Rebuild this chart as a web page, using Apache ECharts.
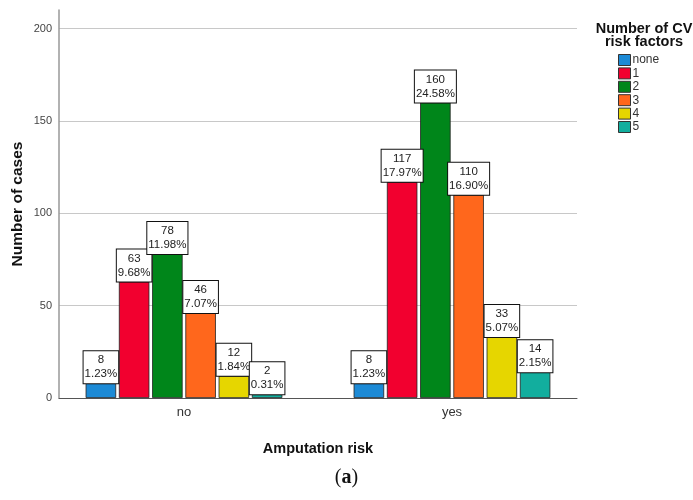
<!DOCTYPE html>
<html><head><meta charset="utf-8">
<script src="https://cdn.jsdelivr.net/npm/echarts@6/dist/echarts.min.js"></script>
<style>html,body{margin:0;padding:0;background:#fff}#c{width:693px;height:500px}</style>
</head><body><div id="c"></div>
<script>
const categories = ['no', 'yes'];
const seriesNames = ['none', '1', '2', '3', '4', '5'];
const colors = ['#1c8ad6', '#f2002f', '#00861a', '#ff671c', '#e6d600', '#12ae9e'];
const valuesNone = [8, 8];
const values1 = [63, 117];
const values2 = [78, 160];
const values3 = [46, 110];
const values4 = [12, 33];
const values5 = [2, 14];
const pctNone = ['1.23%', '1.23%'];
const pct1 = ['9.68%', '17.97%'];
const pct2 = ['11.98%', '24.58%'];
const pct3 = ['7.07%', '16.90%'];
const pct4 = ['1.84%', '5.07%'];
const pct5 = ['0.31%', '2.15%'];
const yTicks = [0, 50, 100, 150, 200];

const allValues = [valuesNone, values1, values2, values3, values4, values5];
const allPct = [pctNone, pct1, pct2, pct3, pct4, pct5];
const font = 'Liberation Sans, Arial, sans-serif';

const chart = echarts.init(document.getElementById('c'), null, {renderer: 'canvas'});
const series = seriesNames.map((n, i) => ({
  name: n,
  type: 'bar',
  xAxisIndex: 1,
  yAxisIndex: 1,
  data: allValues[i],
  barWidth: 30.5,
  barGap: '9%',
  itemStyle: {color: colors[i], borderColor: '#222', borderWidth: 0.8},
  label: {
    show: true,
    position: 'top',
    distance: 0,
    formatter: p => p.value + '\n' + allPct[i][p.dataIndex],
    backgroundColor: '#fff',
    borderColor: '#111',
    borderWidth: 1,
    padding: [2, 1, 2, 1],
    fontFamily: font,
    fontSize: 11.5,
    lineHeight: 14,
    color: '#222'
  }
}));

chart.setOption({
  animation: false,
  color: colors,
  title: {
    text: 'Number of CV\nrisk factors',
    left: 639, top: 17, textAlign: 'center',
    textStyle: {fontFamily: font, fontSize: 14.5, fontWeight: 'bold', color: '#111', lineHeight: 13.5}
  },
  legend: {
    orient: 'vertical', left: 613, top: 49,
    itemWidth: 12, itemHeight: 11, itemGap: 1.4,
    icon: 'rect',
    data: seriesNames,
    itemStyle: {borderColor: '#333', borderWidth: 1},
    textStyle: {fontFamily: font, fontSize: 12, color: '#333', lineHeight: 12, padding: [0, 0, 0, -3]}
  },
  grid: [
    {left: 59, right: 116, top: 10, bottom: 102},
    {left: 50, right: 107, top: 10, bottom: 102}
  ],
  xAxis: [{
    gridIndex: 0,
    type: 'category', data: categories,
    name: 'Amputation risk', nameLocation: 'middle', nameGap: 43,
    nameMoveOverlap: false,
    nameTextStyle: {fontFamily: font, fontSize: 14.5, fontWeight: 'bold', color: '#111'},
    axisLine: {lineStyle: {color: '#555', width: 1}},
    axisTick: {show: false},
    axisLabel: {show: false}
  }, {
    gridIndex: 1,
    type: 'category', data: categories,
    axisLine: {show: false},
    axisTick: {show: false},
    axisLabel: {fontFamily: font, fontSize: 13, color: '#333', margin: 8}
  }],
  yAxis: [{
    gridIndex: 0,
    type: 'value', min: 0, max: 210, interval: 50,
    name: 'Number of cases', nameLocation: 'middle', nameGap: 33,
    nameMoveOverlap: false,
    nameTextStyle: {fontFamily: font, fontSize: 15.5, fontWeight: 'bold', color: '#111'},
    axisLine: {show: true, lineStyle: {color: '#999', width: 1.5}},
    axisTick: {show: false},
    axisLabel: {fontFamily: font, fontSize: 11, color: '#444', margin: 7, showMaxLabel: false,
      formatter: v => yTicks.includes(v) ? String(v) : ''},
    splitLine: {lineStyle: {color: '#c8c8c8'}, showMaxLine: false}
  }, {
    gridIndex: 1,
    type: 'value', min: 0, max: 210, interval: 50,
    axisLine: {show: false}, axisTick: {show: false},
    axisLabel: {show: false}, splitLine: {show: false}
  }],
  graphic: [{
    type: 'text', left: 'center', top: 468,
    style: {
      text: '({a|a})', x: 0, y: 0,
      font: '20px "Liberation Serif", "DejaVu Serif", serif', fill: '#111',
      rich: {a: {font: 'bold 20px "Liberation Serif", "DejaVu Serif", serif', fill: '#111'}}
    }
  }],
  series: series
});
</script></body></html>
